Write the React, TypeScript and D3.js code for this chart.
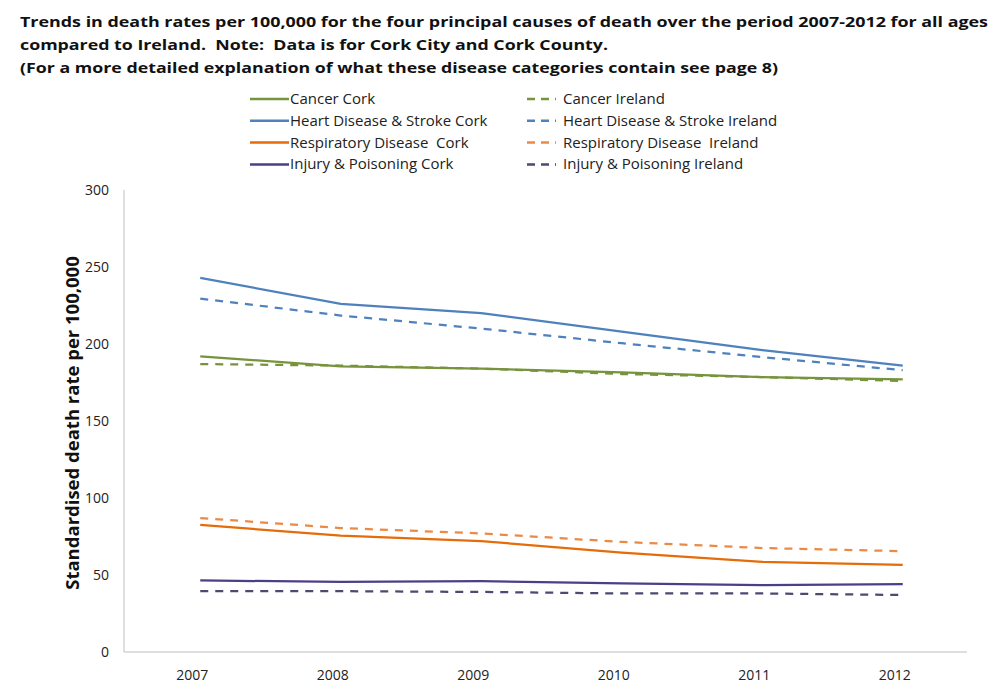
import * as d3 from 'd3';

const years = ['2007', '2008', '2009', '2010', '2011', '2012'];

const cancerCork = [192, 185.5, 184, 181.5, 178.5, 177];
const cancerIreland = [187, 186, 184, 180.5, 178.5, 176];
const heartCork = [243, 226, 220, 208, 196, 186];
const heartIreland = [229.5, 218.5, 210, 200.5, 191.5, 183];
const respCork = [82.5, 75.5, 72, 64.5, 58.5, 56.5];
const respIreland = [87, 80.5, 77, 71.5, 67.5, 65.5];
const injuryCork = [46.5, 45.5, 46, 44.5, 43.5, 44];
const injuryIreland = [39.5, 39.5, 39, 38, 38, 37];

const yTicks = [0, 50, 100, 150, 200, 250, 300];

const titleLines = [
  'Trends in death rates per 100,000 for the four principal causes of death over the period 2007-2012 for all ages',
  'compared to Ireland.  Note:  Data is for Cork City and Cork County.',
  '(For a more detailed explanation of what these disease categories contain see page 8)',
];
const titleWidths = [968, 588, 758];

type Series = { name: string; values: number[]; color: string; dashed: boolean };

const series: Series[] = [
  { name: 'Cancer Cork', values: cancerCork, color: '#77933C', dashed: false },
  { name: 'Heart Disease & Stroke Cork', values: heartCork, color: '#4F81BD', dashed: false },
  { name: 'Respiratory Disease  Cork', values: respCork, color: '#E46C0A', dashed: false },
  { name: 'Injury & Poisoning Cork', values: injuryCork, color: '#4D3F87', dashed: false },
  { name: 'Cancer Ireland', values: cancerIreland, color: '#77933C', dashed: true },
  { name: 'Heart Disease & Stroke Ireland', values: heartIreland, color: '#4F81BD', dashed: true },
  { name: 'Respiratory Disease  Ireland', values: respIreland, color: '#EB8A45', dashed: true },
  { name: 'Injury & Poisoning Ireland', values: injuryIreland, color: '#4A4A72', dashed: true },
];

export default function App() {
  const width = 993;
  const height = 695;
  const plot = { left: 124, right: 967, top: 190, bottom: 652 };

  const x = d3.scaleBand<string>().domain(years).range([plot.left, plot.right]);
  const y = d3.scaleLinear().domain([0, 300]).range([plot.bottom, plot.top]);
  const cx = (yr: string) => (x(yr) ?? 0) + x.bandwidth() / 2 + 6;

  const line = d3
    .line<number>()
    .x((_, i) => cx(years[i]))
    .y((d) => y(d));

  const font = "'Open Sans', 'Liberation Sans', sans-serif";

  return (
    <svg
      width={width}
      height={height}
      style={{ position: 'absolute', left: 0, top: 0, background: '#fff' }}
      fontFamily={font}
    >
      {titleLines.map((t, i) => (
        <text
          key={i}
          x={20}
          y={27 + i * 23}
          fontSize={15}
          fontWeight="bold"
          fill="#111"
          xmlSpace="preserve"
          style={{ whiteSpace: 'pre' }}
          textLength={titleWidths[i]}
          lengthAdjust="spacingAndGlyphs"
        >
          {t}
        </text>
      ))}

      {series.map((s, i) => {
        const col = i < 4 ? 0 : 1;
        const row = i % 4;
        const ly = 99 + row * 21.8;
        const x0 = col === 0 ? 250 : 527;
        const x1 = col === 0 ? 289 : 556;
        return (
          <g key={s.name}>
            <line
              x1={x0}
              x2={x1}
              y1={ly}
              y2={ly}
              stroke={s.color}
              strokeWidth={2.5}
              strokeDasharray={s.dashed ? '8 6' : undefined}
            />
            <text
              x={col === 0 ? 290 : 563}
              y={ly + 5}
              fontSize={15}
              fill="#222"
              xmlSpace="preserve"
              style={{ whiteSpace: 'pre' }}
            >
              {s.name}
            </text>
          </g>
        );
      })}

      <line x1={plot.left} x2={plot.left} y1={plot.top} y2={plot.bottom} stroke="#bfbfbf" strokeWidth={1} />
      <line x1={plot.left} x2={plot.right} y1={plot.bottom} y2={plot.bottom} stroke="#bfbfbf" strokeWidth={1} />

      {yTicks.map((t) => (
        <text key={t} x={109} y={y(t) + 5} fontSize={14} textAnchor="end" fill="#222">
          {t}
        </text>
      ))}

      {years.map((yr) => (
        <text key={yr} x={cx(yr) - 8} y={680} fontSize={14} textAnchor="middle" fill="#222">
          {yr}
        </text>
      ))}

      <text
        transform={`translate(79,${(plot.top + plot.bottom) / 2 + 2}) rotate(-90)`}
        textAnchor="middle"
        fontSize={18.5}
        fontWeight="bold"
        fill="#111"
      >
        Standardised death rate per 100,000
      </text>

      {series.map((s) => (
        <path
          key={s.name}
          d={line(s.values) ?? ''}
          fill="none"
          stroke={s.color}
          strokeWidth={2.25}
          strokeDasharray={s.dashed ? '8 7' : undefined}
        />
      ))}
    </svg>
  );
}
